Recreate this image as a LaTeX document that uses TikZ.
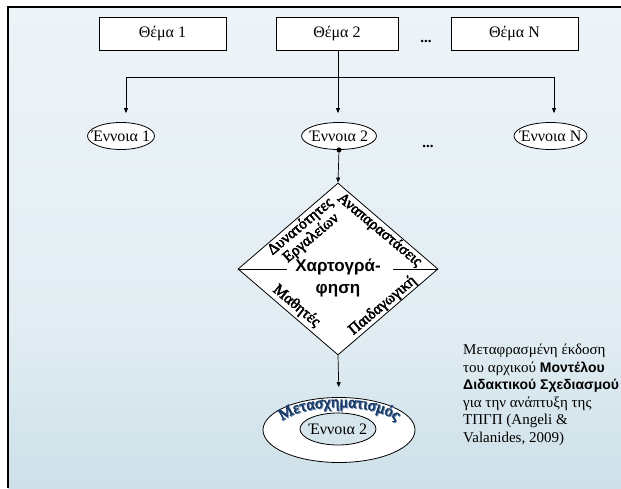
\documentclass[tikz,border=0pt]{standalone}
\usepackage{fontspec}
\setmainfont{Liberation Serif}
\setsansfont{Liberation Sans}
\newfontfamily\heavyserif{Liberation Serif}[FakeBold=3]
\usetikzlibrary{shapes.geometric,arrows.meta,decorations.text,calc}
\definecolor{bgA}{HTML}{F5F9FC}
\definecolor{bgB}{HTML}{E2EDF3}
\definecolor{bgC}{HTML}{C6DBE4}
\definecolor{bgD}{HTML}{88B4C5}
\definecolor{bgE}{HTML}{6E9FB4}
\definecolor{innerfill}{HTML}{D6E4EC}
\definecolor{navy}{HTML}{1B3A66}
\definecolor{navyshadow}{HTML}{6F8FB5}
\pgfdeclareverticalshading{slidebg}{100bp}{color(0bp)=(bgE); color(8bp)=(bgD); color(19bp)=(bgC); color(42bp)=(bgB); color(100bp)=(bgA)}
\begin{document}
\begin{tikzpicture}[x=1pt,y=1pt,
  box/.style={draw,fill=white,line width=0.8pt,minimum width=127pt,minimum height=33pt,inner sep=0,font=\fontsize{16}{16}\selectfont},
  concept/.style={ellipse,draw,fill=white,line width=0.8pt,inner sep=0,minimum height=27pt},
  ctext/.style={inner sep=0,font=\fontsize{16}{16}\selectfont},
  dotsl/.style={inner sep=0,font=\bfseries\fontsize{15}{15}\selectfont},
  conn/.style={line width=0.7pt,-{Triangle[length=5pt,width=4pt]}},
  plain/.style={line width=0.7pt},
  edgelbl/.style={inner sep=0.5pt,font=\heavyserif\fontsize{15.5}{15.5}\selectfont},
]
\useasboundingbox (0,0) rectangle (621,488);
\shade[shading=slidebg] (8,0) rectangle (621,480);
\draw[line width=2pt] (621,480.5) -- (7.5,480.5) -- (7.5,0);

% top topics
\node[box] (t1) at (162.5,454.5) {Θέμα 1};
\node[box,minimum width=122pt] (t2) at (337,454.5) {Θέμα 2};
\node[box] (tN) at (514.5,454.5) {Θέμα N};
\node[dotsl] (d1) at (426,447) {...};

% distribution line
\coordinate (h1) at (126,411);
\coordinate (h2) at (338,411);
\coordinate (hN) at (554,411);
\draw[plain] (t2.south -| h2) -- (h2);
\draw[plain] (h1) -- (hN);

% concepts
\node[concept,minimum width=67pt] (e1) at (121,352) {};
\node[ctext] (e1t) at (e1) {Έννοια 1};
\node[concept,minimum width=75pt] (e2) at (339,352) {};
\node[ctext] (e2t) at (e2) {Έννοια 2};
\node[concept,minimum width=73pt] (eN) at (550.5,352) {};
\node[ctext] (eNt) at (eN) {Έννοια N};
\node[dotsl] (d2) at (428,342) {...};

\draw[conn,shorten >=9pt] (h1) -- (h1 |- e1.north);
\draw[conn,shorten >=9pt] (h2) -- (h2 |- e2.north);
\draw[conn,shorten >=9pt] (hN) -- (hN |- eN.north);

% diamond
\node[diamond,draw,fill=white,line width=0.8pt,minimum width=200pt,minimum height=172pt,inner sep=0] (map) at (338,219) {};
\fill (e2.south) circle (2.5pt);
\draw[conn] (e2.south) -- (map.north);
\draw[plain] (map.west) -- ++(49,0);
\draw[plain] (map.east) -- ++(-45,0);
\node[align=center,inner sep=0,font=\sffamily\bfseries\fontsize{17}{22}\selectfont] (maptxt) at (338,210) {Χαρτογρά-\\φηση};
\node[edgelbl,rotate=40,anchor=north] (l1) at ($(map.west)!0.57!(map.north)+(0.8,-1)$) {Δυνατότητες};
\node[edgelbl,rotate=40,anchor=north] (l2) at ($(l1.south)+(0.5,0.5)$) {Εργαλείων};
\node[edgelbl,rotate=-40,anchor=north] (l3) at ($(map.north)!0.47!(map.east)+(-0.8,-1)$) {Αναπαραστάσεις};
\node[edgelbl,rotate=-40,anchor=south] (l4) at ($(map.west)!0.52!(map.south)+(1.5,1.8)$) {Μαθητές};
\node[edgelbl,rotate=40,anchor=south] (l5) at ($(map.south)!0.5!(map.east)+(-0.5,0.6)$) {Παιδαγωγική};

% transformation
\node[ellipse,draw,fill=white,line width=0.8pt,minimum width=152pt,minimum height=65pt,inner sep=0] (outer) at (339,58) {};
\node[ellipse,draw,fill=innerfill,line width=0.8pt,minimum width=76pt,minimum height=32pt,inner sep=0] (inner) at (338,59) {};
\node[ctext] (innert) at (inner) {Έννοια 2};
\draw[conn,shorten >=10pt] (map.south) -- (outer.north);
\path[decorate,decoration={text along path,text align=center,text={|\heavyserif\fontsize{16}{16}\selectfont\color{navyshadow}|Μετασχηματισμός}}]
  ($(outer.center)+(0.9,-0.9)+(172:62 and 23)$) arc[start angle=172,end angle=8,x radius=62,y radius=23];
\path[decorate,decoration={text along path,text align=center,text={|\heavyserif\fontsize{16}{16}\selectfont\color{navy}|Μετασχηματισμός}}]
  ($(outer.center)+(172:62 and 23)$) arc[start angle=172,end angle=8,x radius=62,y radius=23];

% note
\node[anchor=north west,align=left,inner sep=0,font=\fontsize{15}{17.5}\selectfont] (note) at (463,144)
  {Μεταφρασμένη έκδοση\\του αρχικού {\sffamily\bfseries\fontsize{14}{17.5}\selectfont Μοντέλου}\\{\sffamily\bfseries\fontsize{14}{17.5}\selectfont Διδακτικού Σχεδιασμού}\\για την ανάπτυξη της\\ΤΠΓΠ (Angeli \&\\Valanides, 2009)};
\end{tikzpicture}
\end{document}
